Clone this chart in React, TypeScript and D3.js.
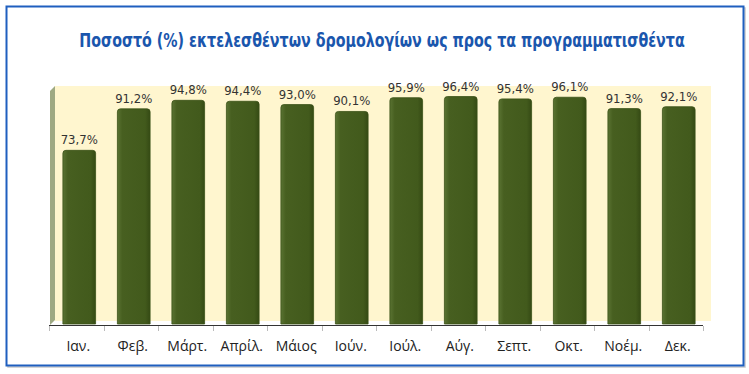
import React from "react";
import * as d3 from "d3";

const months = ["Ιαν.", "Φεβ.", "Μάρτ.", "Απρίλ.", "Μάιος", "Ιούν.", "Ιούλ.", "Αύγ.", "Σεπτ.", "Οκτ.", "Νοέμ.", "Δεκ."];
const values = [73.7, 91.2, 94.8, 94.4, 93.0, 90.1, 95.9, 96.4, 95.4, 96.1, 91.3, 92.1];
const title = "Ποσοστό (%) εκτελεσθέντων δρομολογίων ως προς τα προγραμματισθέντα";

const W = 749;
const H = 374;
const depth = 5;
const plot = { left: 49, right: 703, top: 91, bottom: 325 };
const cond = "'DejaVu Sans', sans-serif";

const App = () => {
  const x = d3.scaleBand().domain(months).range([plot.left, plot.right]).paddingInner(0.4).paddingOuter(0.2);
  const xTicks = d3.scaleBand().domain(months).range([plot.left, plot.right]);
  const y = d3.scaleLinear().domain([0, 100]).range([plot.bottom, plot.top - 3]);
  const fmt = (v: number) => d3.format(".1f")(v).replace(".", ",") + "%";

  const barPath = (x0: number, w: number, yTop: number, yBot: number) => {
    const r = 3;
    return `M${x0},${yBot}V${yTop + r}Q${x0},${yTop} ${x0 + r},${yTop}H${x0 + w - r}Q${x0 + w},${yTop} ${x0 + w},${yTop + r}V${yBot}Z`;
  };

  return (
    <svg width={W} height={H} style={{ position: "absolute", left: 0, top: 0 }}>
      <defs>
        <linearGradient id="barg" x1="0" x2="1" y1="0" y2="0">
          <stop offset="0" stopColor="#5a7332" />
          <stop offset="0.15" stopColor="#475f20" />
          <stop offset="0.85" stopColor="#425a1c" />
          <stop offset="1" stopColor="#354a14" />
        </linearGradient>
      </defs>
      <rect x={0} y={0} width={W} height={H} fill="#fff" />
      {/* frame */}
      <rect x={8} y={8} width={737} height={359} fill="none" stroke="#c8c8c8" strokeWidth={1.5} />
      <rect x={6.5} y={6.5} width={737} height={359} fill="#fff" stroke="#1f5fbf" strokeWidth={2} />
      {/* title, squeezed horizontally to mimic the condensed face */}
      <text
        transform="translate(382,47) scale(0.75,1)"
        textAnchor="middle"
        fontFamily={cond}
        fontWeight="bold"
        fontSize={19}
        fill="#1a56ad"
      >
        {title}
      </text>
      {/* back wall and side wall */}
      <rect x={plot.left + depth + 1} y={plot.top - depth} width={plot.right - plot.left + 2} height={plot.bottom - plot.top + 1} fill="#fff6cf" />
      <path
        d={`M${plot.left + 1},${plot.top}L${plot.left + depth + 1},${plot.top - depth}V${plot.bottom - depth}L${plot.left + 1},${plot.bottom}Z`}
        fill="#9ea983"
      />
      {/* bars */}
      {values.map((v, i) => {
        const bx = (x(months[i]) as number) + 3;
        return (
          <g key={months[i]}>
            <path d={barPath(bx, x.bandwidth(), y(v), plot.bottom - 1)} fill="url(#barg)" stroke="#3a5016" strokeWidth={0.8} />
            <text
              transform={`translate(${bx + x.bandwidth() / 2},${y(v) - 6}) scale(0.9,1)`}
              textAnchor="middle"
              fontFamily={cond}
              fontSize={13}
              fill="#333"
            >
              {fmt(v)}
            </text>
          </g>
        );
      })}
      {/* axis */}
      <line x1={plot.left} x2={plot.right} y1={plot.bottom + 0.5} y2={plot.bottom + 0.5} stroke="#333" strokeWidth={1.2} />
      {d3.range(months.length + 1).map((i) => {
        const tx = Math.round(plot.left + i * xTicks.step()) + 0.5;
        return <line key={i} x1={tx} x2={tx} y1={plot.bottom + 1} y2={plot.bottom + 6} stroke="#bbb" />;
      })}
      {months.map((m) => (
        <text
          key={m}
          x={(xTicks(m) as number) + xTicks.bandwidth() / 2 + 2}
          y={351}
          textAnchor="middle"
          fontFamily="'Open Sans', 'Noto Sans', sans-serif"
          fontSize={14}
          fill="#222"
        >
          {m}
        </text>
      ))}
    </svg>
  );
};

export default App;
